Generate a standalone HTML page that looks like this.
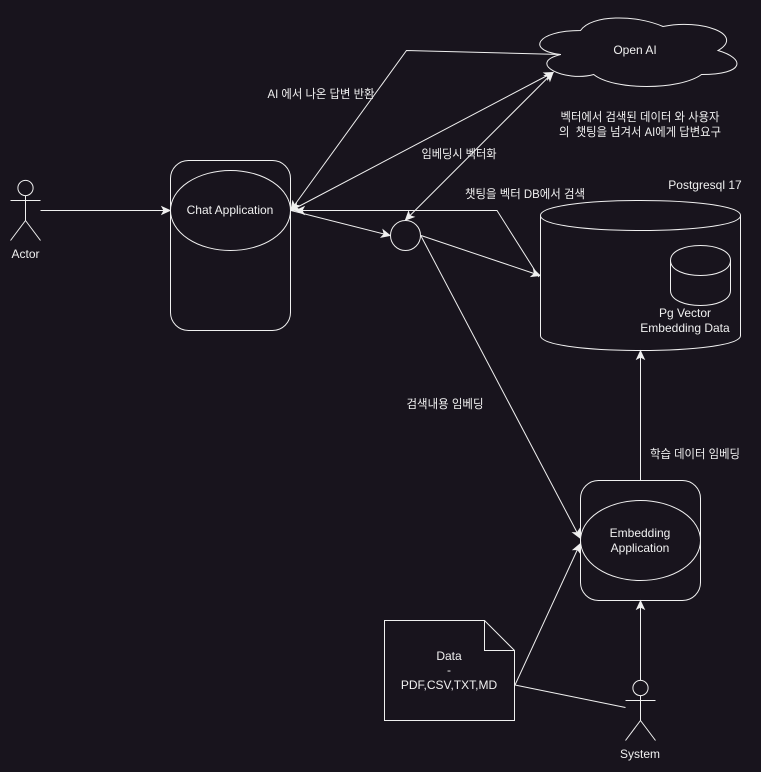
<!DOCTYPE html>
<html><head><meta charset="utf-8"><style>
html,body{margin:0;padding:0;background:#18141d;width:761px;height:772px;overflow:hidden}
svg{display:block}
text{font-family:"Liberation Sans","Noto Sans CJK KR",sans-serif;font-size:12px;fill:#f0f0f0;text-anchor:middle;dominant-baseline:central}
.s{fill:none;stroke:#f0f0f0;stroke-width:1}
</style></head><body>
<svg width="761" height="772" viewBox="0 0 761 772" xmlns="http://www.w3.org/2000/svg">
<defs><marker id="a" markerUnits="userSpaceOnUse" markerWidth="12" markerHeight="12" refX="10" refY="6" orient="auto-start-reverse"><path d="M10 6L2 2.3L4 6L2 9.7Z" fill="#f0f0f0" stroke="#f0f0f0" stroke-width="1"/></marker></defs>
<rect width="761" height="772" fill="#18141d"/>
<!-- Actor -->
<g class="s"><circle cx="25.5" cy="188" r="7.6"/><path d="M25.5 195.6V220.5M10.5 200.5H40.5M25.5 220.5L10.5 240.5M25.5 220.5L40.5 240.5"/></g>
<text x="25.5" y="254">Actor</text>
<path class="s" d="M40.5 210.5H170" marker-end="url(#a)"/>
<!-- Chat app -->
<rect class="s" x="170.5" y="160.5" width="120" height="170" rx="18" ry="18"/>
<ellipse class="s" cx="230.5" cy="210.5" rx="60" ry="40"/>
<text x="230" y="210">Chat Application</text>
<!-- Cloud -->
<path class="s" d="M580.5 30.5C536.5 30.5 525.5 50.5 560.7 54.5C525.5 63.3 565.1 82.5 593.7 74.5C613.5 90.5 679.5 90.5 701.5 74.5C745.5 74.5 745.5 58.5 718 50.5C745.5 34.5 701.5 18.5 663 26.5C635.5 14.5 591.5 14.5 580.5 30.5Z"/>
<text x="635" y="50">Open AI</text>
<!-- Connectors -->
<path class="s" d="M561 54.5L406.5 50.5L291 210" marker-end="url(#a)"/>
<path class="s" d="M291 210.5L553 72.5" marker-start="url(#a)" marker-end="url(#a)"/>
<path class="s" d="M405.5 220L553 72.5" marker-start="url(#a)" marker-end="url(#a)"/>
<path class="s" d="M291 210.5L390 235.5" marker-end="url(#a)"/>
<path class="s" d="M539 277L497 210.5H296" marker-end="url(#a)"/>
<circle class="s" cx="405.5" cy="235.5" r="15"/>
<path class="s" d="M421 235.5L540 275.5" marker-end="url(#a)"/>
<path class="s" d="M421 236L580 538" marker-end="url(#a)"/>
<path class="s" d="M515 685L580 544" marker-end="url(#a)"/>
<path class="s" d="M515 685L625.5 707.5"/>
<path class="s" d="M640.5 480.5V351" marker-end="url(#a)"/>
<path class="s" d="M640.5 680.5V601" marker-end="url(#a)"/>
<!-- DB -->
<path class="s" d="M540.5 215.5C540.5 195.5 740.5 195.5 740.5 215.5V335.5C740.5 355.5 540.5 355.5 540.5 335.5ZM540.5 215.5C540.5 235.5 740.5 235.5 740.5 215.5"/>
<path class="s" d="M670.5 260.5C670.5 240.5 730.5 240.5 730.5 260.5V290.5C730.5 310.5 670.5 310.5 670.5 290.5ZM670.5 260.5C670.5 280.5 730.5 280.5 730.5 260.5"/>
<text x="685" y="313">Pg Vector</text>
<text x="685" y="328">Embedding Data</text>
<text x="705" y="185">Postgresql 17</text>
<!-- Embedding app -->
<rect class="s" x="580.5" y="480.5" width="120" height="120" rx="18" ry="18"/>
<ellipse class="s" cx="640.5" cy="540.5" rx="60" ry="40"/>
<text x="640" y="533">Embedding</text>
<text x="640" y="548">Application</text>
<!-- Doc -->
<path class="s" d="M384.5 620.5H484.5L514.5 650.5V720.5H384.5ZM484.5 620.5V650.5H514.5"/>
<text x="449" y="656">Data</text>
<text x="449" y="670">-</text>
<text x="449" y="685">PDF,CSV,TXT,MD</text>
<!-- System -->
<g class="s"><circle cx="640.5" cy="688" r="7.6"/><path d="M640.5 695.6V720.5M625.5 700.5H655.5M640.5 720.5L625.5 740.5M640.5 720.5L655.5 740.5"/></g>
<text x="640" y="754">System</text>
<!-- Labels -->
<text x="321" y="94" textLength="107" lengthAdjust="spacingAndGlyphs">AI 에서 나온 답변 반환</text>
<text x="640" y="117" textLength="159" lengthAdjust="spacingAndGlyphs">벡터에서 검색된 데이터 와 사용자</text>
<text x="640" y="132" textLength="162" lengthAdjust="spacingAndGlyphs">의&#160;&#160;챗팅을 넘겨서 AI에게 답변요구</text>
<text x="459" y="154" textLength="75" lengthAdjust="spacingAndGlyphs">임베딩시 벡터화</text>
<text x="525" y="194" textLength="120" lengthAdjust="spacingAndGlyphs">챗팅을 벡터 DB에서 검색</text>
<text x="445" y="404" textLength="77" lengthAdjust="spacingAndGlyphs">검색내용 임베딩</text>
<text x="695" y="454" textLength="90" lengthAdjust="spacingAndGlyphs">학습 데이터 임베딩</text>
</svg>
</body></html>
